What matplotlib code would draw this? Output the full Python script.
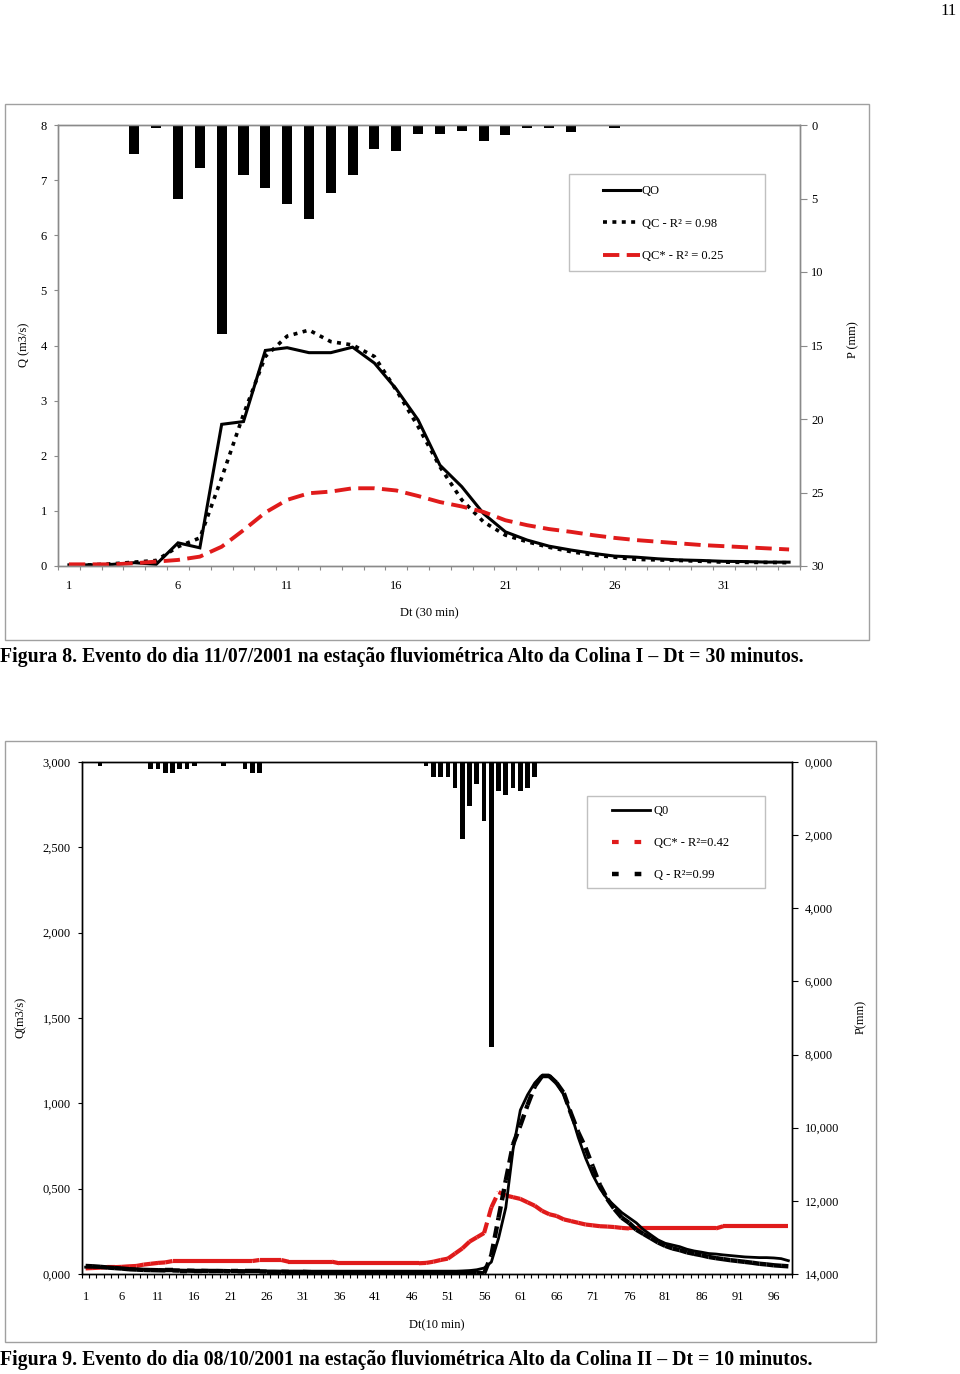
import numpy as np
import matplotlib.pyplot as plt
from matplotlib.collections import LineCollection
from matplotlib.lines import Line2D
from matplotlib.patches import Rectangle

plt.rcParams['font.family'] = ['Liberation Serif', 'DejaVu Serif']

W, H = 960, 1374
RED = '#e01b1b'

# ---------------- Figura 8 (Dt = 30 min) ----------------
f8_qo = [0.02, 0.02, 0.03, 0.06, 0.03, 0.42, 0.33, 2.57, 2.62, 3.91,
         3.96, 3.87, 3.87, 3.97, 3.68, 3.21, 2.65, 1.83, 1.44, 0.95,
         0.62, 0.47, 0.36, 0.29, 0.23, 0.18, 0.16, 0.13, 0.11, 0.10,
         0.085, 0.08, 0.07, 0.07]
f8_qc = [0.02, 0.02, 0.04, 0.07, 0.10, 0.35, 0.51, 1.60, 2.75, 3.80,
         4.17, 4.28, 4.07, 4.01, 3.80, 3.19, 2.53, 1.80, 1.20, 0.80,
         0.56, 0.44, 0.34, 0.26, 0.20, 0.16, 0.12, 0.11, 0.10, 0.085,
         0.07, 0.065, 0.065, 0.06]
f8_qcs = [0.03, 0.03, 0.03, 0.05, 0.08, 0.11, 0.17, 0.35, 0.65, 0.97,
          1.20, 1.32, 1.35, 1.41, 1.41, 1.37, 1.27, 1.16, 1.08, 0.98,
          0.83, 0.74, 0.67, 0.62, 0.56, 0.51, 0.47, 0.44, 0.41, 0.38,
          0.36, 0.34, 0.32, 0.30]
f8_rain_idx = [4, 5, 6, 7, 8, 9, 10, 11, 12, 13, 14, 15, 16, 17, 18, 19,
               20, 21, 22, 23, 24, 26]
f8_rain = [2.0, 0.2, 5.0, 2.9, 14.2, 3.4, 4.3, 5.4, 6.4, 4.6, 3.4, 1.6,
           1.8, 0.6, 0.6, 0.4, 1.1, 0.7, 0.2, 0.2, 0.5, 0.2]
f8_xlabels = [1, 6, 11, 16, 21, 26, 31]
f8_qticks = [0, 1, 2, 3, 4, 5, 6, 7, 8]
f8_pticks = [0, 5, 10, 15, 20, 25, 30]

# ---------------- Figura 9 (Dt = 10 min) ----------------
f9_q0 = [0.040, 0.040, 0.040, 0.038, 0.035, 0.032, 0.030, 0.028, 0.026, 0.025,
         0.024, 0.023, 0.022, 0.022, 0.021, 0.020, 0.020, 0.020, 0.019, 0.019,
         0.018, 0.018, 0.018, 0.017, 0.017, 0.017, 0.017, 0.016, 0.016, 0.016,
         0.016, 0.015, 0.015, 0.015, 0.015, 0.015, 0.015, 0.015, 0.015, 0.015,
         0.015, 0.015, 0.015, 0.015, 0.015, 0.015, 0.015, 0.015, 0.015, 0.015,
         0.015, 0.015, 0.017, 0.020, 0.025, 0.035, 0.070, 0.21, 0.39, 0.73,
         0.96, 1.05, 1.12, 1.165, 1.165, 1.12, 1.05, 0.94, 0.80, 0.68,
         0.58, 0.50, 0.44, 0.40, 0.36, 0.33, 0.30, 0.26, 0.23, 0.20,
         0.18, 0.17, 0.16, 0.145, 0.135, 0.128, 0.12, 0.117, 0.112, 0.108,
         0.104, 0.10, 0.098, 0.096, 0.096, 0.094, 0.09, 0.078]
f9_q = [0.047, 0.045, 0.042, 0.038, 0.035, 0.032, 0.028, 0.026, 0.024, 0.023,
        0.022, 0.021, 0.021, 0.020, 0.020, 0.019, 0.019, 0.018, 0.018, 0.017,
        0.016, 0.016, 0.015, 0.015, 0.015, 0.014, 0.014, 0.014, 0.013, 0.013,
        0.013, 0.012, 0.012, 0.012, 0.012, 0.012, 0.012, 0.012, 0.012, 0.012,
        0.012, 0.012, 0.012, 0.012, 0.012, 0.012, 0.012, 0.012, 0.012, 0.012,
        0.012, 0.012, 0.012, 0.012, 0.008, 0.003, 0.11, 0.33, 0.55, 0.76,
        0.87, 0.99, 1.10, 1.16, 1.16, 1.12, 1.06, 0.94, 0.83, 0.74,
        0.63, 0.52, 0.44, 0.38, 0.33, 0.30, 0.26, 0.235, 0.21, 0.185,
        0.165, 0.15, 0.14, 0.127, 0.118, 0.11, 0.10, 0.093, 0.087, 0.081,
        0.076, 0.071, 0.066, 0.06, 0.056, 0.051, 0.048, 0.045]
f9_qcs = [0.033, 0.035, 0.037, 0.040, 0.040, 0.042, 0.045, 0.047, 0.055, 0.060,
          0.065, 0.068, 0.076, 0.076, 0.076, 0.076, 0.076, 0.076, 0.076, 0.076,
          0.076, 0.076, 0.076, 0.076, 0.082, 0.082, 0.082, 0.082, 0.072, 0.072,
          0.072, 0.072, 0.072, 0.072, 0.072, 0.063, 0.063, 0.063, 0.063, 0.063,
          0.063, 0.063, 0.063, 0.063, 0.063, 0.063, 0.063, 0.065, 0.072, 0.082,
          0.09, 0.12, 0.15, 0.19, 0.215, 0.24, 0.39, 0.48, 0.46, 0.45,
          0.44, 0.42, 0.40, 0.37, 0.35, 0.34, 0.32, 0.31, 0.30, 0.29,
          0.285, 0.28, 0.278, 0.275, 0.27, 0.267, 0.267, 0.267, 0.267, 0.267,
          0.267, 0.267, 0.267, 0.267, 0.267, 0.267, 0.267, 0.267, 0.28, 0.28,
          0.28, 0.28, 0.28, 0.28, 0.28, 0.28, 0.28, 0.28]
f9_rain_idx = [3, 10, 11, 12, 13, 14, 15, 16, 20, 23, 24, 25,
               48, 49, 50, 51, 52, 53, 54, 55, 56, 57, 58, 59, 60, 61, 62, 63]
f9_rain = [0.1, 0.2, 0.2, 0.3, 0.3, 0.2, 0.2, 0.1, 0.1, 0.2, 0.3, 0.3,
           0.1, 0.4, 0.4, 0.4, 0.7, 2.1, 1.2, 0.6, 1.6, 7.8, 0.8, 0.9, 0.7, 0.8, 0.7, 0.4]
f9_xlabels = [1, 6, 11, 16, 21, 26, 31, 36, 41, 46, 51, 56, 61, 66, 71, 76, 81, 86, 91, 96]
f9_qticks = [0, 0.5, 1.0, 1.5, 2.0, 2.5, 3.0]
f9_qlabels = ['0,000', '0,500', '1,000', '1,500', '2,000', '2,500', '3,000']
f9_pticks = [0, 2, 4, 6, 8, 10, 12, 14]
f9_plabels = ['0,000', '2,000', '4,000', '6,000', '8,000', '10,000', '12,000', '14,000']


def px_rect(l, t, r, b):
    return [l / W, 1 - b / H, (r - l) / W, (b - t) / H]


def fig_xy(x, y):
    return x / W, 1 - y / H


def segments(x, y):
    pts = np.column_stack([x, y])
    return np.stack([pts[:-1], pts[1:]], axis=1)


def style_axes(ax, color):
    for s in ax.spines.values():
        s.set_color(color)
        s.set_linewidth(1.0)
    ax.tick_params(colors=color, labelcolor='black', labelsize=9)


fig = plt.figure(figsize=(W / 100, H / 100), dpi=100)
fig.text(*fig_xy(949, 11), '11', fontsize=12, ha='center', va='center')

# ======== Figura 8 ========
fig.add_artist(Rectangle(fig_xy(5, 640), 864 / W, 536 / H, transform=fig.transFigure,
                         fill=False, edgecolor='#a0a0a0', lw=1.0))
ax1 = fig.add_axes(px_rect(58, 125, 800, 566))
x8 = np.arange(1, len(f8_qo) + 1)
l_qo, = ax1.plot(x8, f8_qo, color='black', lw=2.2, solid_joinstyle='miter')
l_qc, = ax1.plot(x8, f8_qc, color='black', lw=2.6, ls=(0, (1.1, 1.5)))
l_qcs, = ax1.plot(x8, f8_qcs, color=RED, lw=2.8, ls=(0, (4.2, 1.9)))
ax1.set_xlim(0.5, len(f8_qo) + 0.5)
ax1.set_ylim(0, 8)
ax1.set_yticks(f8_qticks)
ax1.set_xticks(np.arange(0.5, len(f8_qo) + 1, 1))
ax1.set_xticklabels([])
ax1.set_xticks(f8_xlabels, minor=True)
ax1.set_xticklabels([str(v) for v in f8_xlabels], minor=True)
ax1.tick_params(axis='x', which='major', length=3, direction='out')
ax1.tick_params(axis='x', which='minor', length=0, pad=10, labelsize=9)
ax1.tick_params(axis='y', length=3, pad=5)
ax1.set_xlabel('Dt (30 min)', fontsize=9)
ax1.xaxis.set_label_coords(429 / W, 1 - 607 / H, transform=fig.transFigure)
ax1.set_ylabel('Q (m3/s)', fontsize=9)
ax1.yaxis.set_label_coords(30 / W, 1 - 345 / H, transform=fig.transFigure)
style_axes(ax1, '#8a8a8a')

ax1b = ax1.twinx()
ax1b.bar(f8_rain_idx, f8_rain, width=0.46, color='black')
ax1b.set_ylim(30, 0)
ax1b.set_yticks(f8_pticks)
ax1b.tick_params(axis='y', length=5, pad=3)
ax1b.set_ylabel('P (mm)', fontsize=9)
ax1b.yaxis.set_label_coords(847 / W, 1 - 340 / H, transform=fig.transFigure)
style_axes(ax1b, '#8a8a8a')

fig.add_artist(Rectangle(fig_xy(569, 271), 196 / W, 97 / H, transform=fig.transFigure,
                         fill=False, edgecolor='#c0c0c0', lw=1.0))
fig.legend([l_qo, l_qc, l_qcs], ['QO', 'QC - R² = 0.98', 'QC* - R² = 0.25'],
           loc='upper left', bbox_to_anchor=fig_xy(603, 185), bbox_transform=fig.transFigure,
           frameon=False, borderpad=0, borderaxespad=0, fontsize=9,
           handlelength=2.95, handletextpad=0.15, labelspacing=1.65)

fig.text(0.0, 1 - 657 / H,
         'Figura 8. Evento do dia 11/07/2001 na estação fluviométrica Alto da Colina I – Dt = 30 minutos.',
         fontsize=14.2, fontweight='bold', ha='left', va='center')

# ======== Figura 9 ========
fig.add_artist(Rectangle(fig_xy(5, 1342), 871 / W, 601 / H, transform=fig.transFigure,
                         fill=False, edgecolor='#a0a0a0', lw=1.0))
ax2 = fig.add_axes(px_rect(82, 762, 792, 1274))
x9 = np.arange(1, len(f9_q0) + 1)
ax2.add_collection(LineCollection(segments(x9, f9_qcs), colors=RED, linewidths=3.0,
                                  linestyles=[(0, (2.6, 1.4))], capstyle='butt'))
ax2.add_collection(LineCollection(segments(x9, f9_q), colors='black', linewidths=3.2,
                                  linestyles=[(0, (2.6, 1.4))], capstyle='butt'))
ax2.plot(x9, f9_q0, color='black', lw=2.0)
ax2.set_xlim(0.5, len(f9_q0) + 0.5)
ax2.set_ylim(0, 3.0)
ax2.set_yticks(f9_qticks)
ax2.set_yticklabels(f9_qlabels)
ax2.set_xticks(np.arange(0.5, len(f9_q0) + 1, 1))
ax2.set_xticklabels([])
ax2.set_xticks(f9_xlabels, minor=True)
ax2.set_xticklabels([str(v) for v in f9_xlabels], minor=True)
ax2.tick_params(axis='x', which='major', length=3, direction='out')
ax2.tick_params(axis='x', which='minor', length=0, pad=12, labelsize=9)
ax2.tick_params(axis='y', length=3, pad=5)
ax2.set_xlabel('Dt(10 min)', fontsize=9)
ax2.xaxis.set_label_coords(437 / W, 1 - 1319 / H, transform=fig.transFigure)
ax2.set_ylabel('Q(m3/s)', fontsize=9)
ax2.yaxis.set_label_coords(27 / W, 1 - 1017 / H, transform=fig.transFigure)
style_axes(ax2, 'black')

ax2b = ax2.twinx()
ax2b.bar(f9_rain_idx, f9_rain, width=0.65, color='black')
ax2b.set_ylim(14, 0)
ax2b.set_yticks(f9_pticks)
ax2b.set_yticklabels(f9_plabels)
ax2b.tick_params(axis='y', length=4, pad=5)
ax2b.set_ylabel('P(mm)', fontsize=9)
ax2b.yaxis.set_label_coords(855 / W, 1 - 1017 / H, transform=fig.transFigure)
style_axes(ax2b, 'black')

fig.add_artist(Rectangle(fig_xy(587, 888), 178 / W, 92 / H, transform=fig.transFigure,
                         fill=False, edgecolor='#c0c0c0', lw=1.0))
h_q0 = Line2D([], [], color='black', lw=2.0)
h_qcs = Line2D([], [], color=RED, lw=3.0, ls=(0, (1.6, 3.8)))
h_q = Line2D([], [], color='black', lw=3.2, ls=(0, (1.5, 3.6)))
fig.legend([h_q0, h_qcs, h_q], ['Q0', 'QC* - R²=0.42', 'Q - R²=0.99'],
           loc='upper left', bbox_to_anchor=fig_xy(612, 805), bbox_transform=fig.transFigure,
           frameon=False, borderpad=0, borderaxespad=0, fontsize=9,
           handlelength=3.05, handletextpad=0.3, labelspacing=1.6)

fig.text(0.0, 1 - 1360 / H,
         'Figura 9. Evento do dia 08/10/2001 na estação fluviométrica Alto da Colina II – Dt = 10 minutos.',
         fontsize=14.2, fontweight='bold', ha='left', va='center')

fig.savefig('out.png', dpi=100)
